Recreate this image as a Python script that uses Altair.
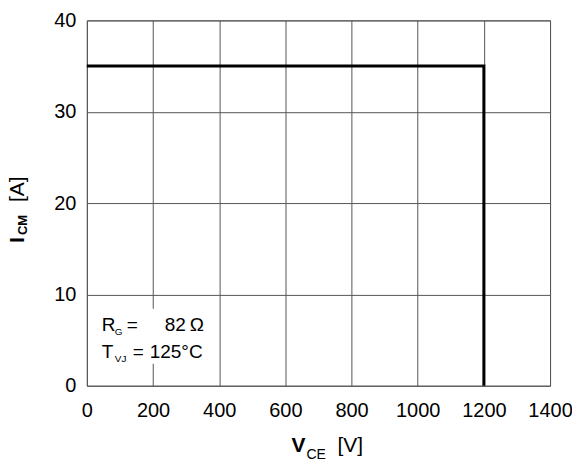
import altair as alt
import pandas as pd

# ---- data ----
vce_points = [0, 1200, 1200]
icm_points = [35, 35, 0]
x_ticks = [0, 200, 400, 600, 800, 1000, 1200, 1400]
y_ticks = [0, 10, 20, 30, 40]

df = pd.DataFrame({"vce": vce_points, "icm": icm_points, "order": list(range(len(vce_points)))})
one = pd.DataFrame({"k": [0]})

W, H = 464, 366
FONT = "Liberation Sans"
GRID = "#555555"

xscale = alt.Scale(domain=[0, 1400], nice=False, zero=False)
yscale = alt.Scale(domain=[0, 40], nice=False, zero=False)

line = alt.Chart(df).mark_line(color="black", strokeWidth=3, clip=False).encode(
    x=alt.X("vce:Q", scale=xscale,
            axis=alt.Axis(values=x_ticks, title=None, grid=True, ticks=False, domain=False,
                          gridColor=GRID, gridOpacity=1, gridWidth=1,
                          labelFontSize=20, labelFont=FONT, labelColor="black",
                          labelPadding=15, labelFlush=False, format="d")),
    y=alt.Y("icm:Q", scale=yscale,
            axis=alt.Axis(values=y_ticks, title=None, grid=True, ticks=False, domain=False,
                          gridColor=GRID, gridOpacity=1, gridWidth=1,
                          labelFontSize=20, labelFont=FONT, labelColor="black",
                          labelPadding=11, labelFlush=False, format="d")),
    order="order:O",
)

box = alt.Chart(one).mark_rect(color="white").encode(
    x=alt.value(5), x2=alt.value(126), y=alt.value(289), y2=alt.value(344)
)

def txt(s, x, y, size, bold=False, angle=0):
    props = dict(text=s, font=FONT, fontSize=size, color="black", align="left",
                 baseline="alphabetic", fontWeight="bold" if bold else "normal")
    if angle:
        props["angle"] = angle
    return alt.Chart(one).mark_text(**props).encode(x=alt.value(x), y=alt.value(y))

texts = [
    # annotation
    txt("R", 15, 311, 19), txt("G", 28, 315, 10), txt("=", 40, 311, 19),
    txt("82", 78, 311, 19), txt("Ω", 103, 311, 19),
    txt("T", 15, 338, 19), txt("VJ", 28, 342, 10), txt("=", 46, 338, 19),
    txt("125°C", 63, 338, 19),
    # x title
    txt("V", 205, 432, 21, bold=True), txt("CE", 220, 439, 14),
    txt("[V]", 251, 432, 21),
    # y title
    txt("I", -63, 223, 21, bold=True, angle=270),
    txt("CM", -60, 215, 13, bold=True, angle=270),
    txt("[A]", -63, 182, 21, angle=270),
]

chart = alt.layer(line, box, *texts).properties(
    width=W, height=H,
    autosize=alt.AutoSizeParams(type="none"),
    padding={"left": 79, "top": 12, "right": 22, "bottom": 76},
).configure_view(stroke=GRID, strokeWidth=1)

chart.save("out.html", embed_options={"renderer": "svg", "actions": False})
